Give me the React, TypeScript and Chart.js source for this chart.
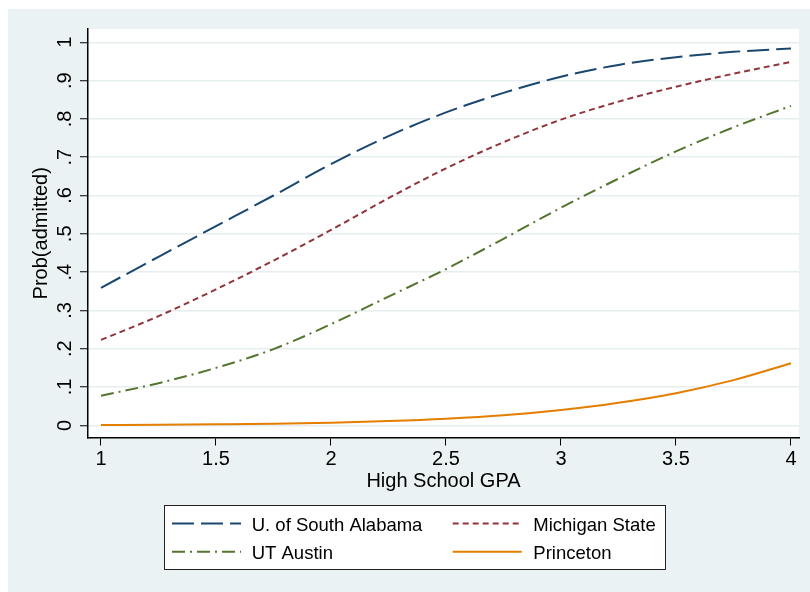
import { useEffect, useRef } from 'react';
import { Chart, registerables } from 'chart.js';

Chart.register(...registerables);

const gpa = [1, 1.25, 1.5, 1.75, 2, 2.25, 2.5, 2.75, 3, 3.25, 3.5, 3.75, 4];
const southAlabama = [0.359, 0.44, 0.52, 0.6, 0.682, 0.755, 0.817, 0.868, 0.91, 0.941, 0.961, 0.975, 0.984];
const michiganState = [0.223, 0.285, 0.355, 0.43, 0.51, 0.593, 0.671, 0.739, 0.798, 0.845, 0.884, 0.918, 0.949];
const utAustin = [0.077, 0.11, 0.15, 0.199, 0.264, 0.336, 0.408, 0.487, 0.568, 0.644, 0.715, 0.778, 0.834];
const princeton = [0.001, 0.0015, 0.0025, 0.004, 0.007, 0.011, 0.017, 0.026, 0.04, 0.059, 0.084, 0.118, 0.162];
const seriesNames = ['U. of South Alabama', 'Michigan State', 'UT Austin', 'Princeton'];
const xTicks = [1, 1.5, 2, 2.5, 3, 3.5, 4];
const xTickLabels = ['1', '1.5', '2', '2.5', '3', '3.5', '4'];
const yTicks = [0, 0.1, 0.2, 0.3, 0.4, 0.5, 0.6, 0.7, 0.8, 0.9, 1];
const yTickLabels = ['0', '.1', '.2', '.3', '.4', '.5', '.6', '.7', '.8', '.9', '1'];
const xTitle = 'High School GPA';
const yTitle = 'Prob(admitted)';

const FONT = '"Liberation Sans", Arial, sans-serif';
const BG = '#EAF2F3';

const toPoints = (ys: number[]) => gpa.map((x, i) => ({ x, y: ys[i] }));

const stataPlugin = {
  id: 'stataDecor',
  beforeDraw(chart: any) {
    const { ctx, chartArea: a, width, height } = chart;
    ctx.save();
    ctx.fillStyle = BG;
    ctx.fillRect(0, 0, width, height);
    ctx.fillStyle = '#ffffff';
    ctx.fillRect(a.left, a.top, a.right - a.left, a.bottom - a.top);
    ctx.restore();
  },
  afterDraw(chart: any) {
    const { ctx, chartArea: a } = chart;
    const xs = chart.scales.x;
    const ys = chart.scales.y;
    ctx.save();
    ctx.fillStyle = '#000';
    ctx.font = `20px ${FONT}`;
    // y tick labels (rotated)
    yTicks.forEach((v, i) => {
      const py = ys.getPixelForValue(v);
      ctx.save();
      ctx.translate(62.5, py);
      ctx.rotate(-Math.PI / 2);
      ctx.textAlign = 'center';
      ctx.textBaseline = 'alphabetic';
      ctx.fillText(yTickLabels[i], 0, 0);
      ctx.restore();
    });
    // x tick labels
    ctx.textAlign = 'center';
    ctx.textBaseline = 'alphabetic';
    xTicks.forEach((v, i) => {
      const px = xs.getPixelForValue(v);
      ctx.fillText(xTickLabels[i], px, 456);
    });
    // x title
    ctx.fillText(xTitle, (a.left + a.right) / 2, 478);
    // y title
    ctx.save();
    ctx.translate(39.3, (a.top + a.bottom) / 2);
    ctx.rotate(-Math.PI / 2);
    ctx.fillText(yTitle, 0, 0);
    ctx.restore();

    // legend
    const bx = 156, by = 496, bw = 502, bh = 65;
    ctx.fillStyle = '#fff';
    ctx.fillRect(bx, by, bw, bh);
    ctx.strokeStyle = '#222';
    ctx.lineWidth = 1;
    ctx.strokeRect(bx + 0.5, by + 0.5, bw - 1, bh - 1);
    const colLine = [[164, 233], [444.7, 513.7]];
    const colText = [243.7, 525.3];
    const rowLine = [514.5, 542.7];
    const rowBase = [522, 550];
    ctx.font = `18.5px ${FONT}`;
    ctx.textAlign = 'left';
    chart.data.datasets.forEach((ds: any, i: number) => {
      const c = i % 2;
      const r = Math.floor(i / 2);
      ctx.save();
      ctx.strokeStyle = ds.borderColor;
      ctx.lineWidth = ds.borderWidth;
      ctx.setLineDash(ds.borderDash || []);
      ctx.beginPath();
      ctx.moveTo(colLine[c][0], rowLine[r]);
      ctx.lineTo(colLine[c][1], rowLine[r]);
      ctx.stroke();
      ctx.restore();
      ctx.fillStyle = '#000';
      ctx.fillText(ds.label, colText[c], rowBase[r]);
    });
    ctx.restore();
  },
};

export default function App() {
  const ref = useRef<HTMLCanvasElement | null>(null);
  useEffect(() => {
    if (!ref.current) return;
    const chart = new Chart(ref.current, {
      type: 'line',
      data: {
        datasets: [
          { label: seriesNames[0], data: toPoints(southAlabama), borderColor: '#1a476f', borderWidth: 2, borderDash: [22, 7] },
          { label: seriesNames[1], data: toPoints(michiganState), borderColor: '#90353b', borderWidth: 2, borderDash: [6, 4] },
          { label: seriesNames[2], data: toPoints(utAustin), borderColor: '#55752f', borderWidth: 2, borderDash: [13, 5, 2, 5] },
          { label: seriesNames[3], data: toPoints(princeton), borderColor: '#e37e00', borderWidth: 2, borderDash: [] },
        ] as any,
      },
      options: {
        animation: false,
        responsive: false,
        devicePixelRatio: 1,
        elements: { point: { radius: 0 }, line: { cubicInterpolationMode: 'monotone', fill: false } },
        layout: { padding: { left: 72, top: 20, right: 11, bottom: 146.5 } },
        plugins: { legend: { display: false }, tooltip: { enabled: false } },
        scales: {
          x: {
            type: 'linear',
            min: 0.9435,
            max: 4.0348,
            afterBuildTicks: (s: any) => { s.ticks = xTicks.map((v) => ({ value: v })); },
            ticks: { display: false },
            grid: { drawOnChartArea: false, tickLength: 8, tickColor: '#000', tickWidth: 1 },
            border: { display: true, color: '#000', width: 1.5 },
          },
          y: {
            type: 'linear',
            min: -0.0318,
            max: 1.0347,
            afterBuildTicks: (s: any) => { s.ticks = yTicks.map((v) => ({ value: v })); },
            ticks: { display: false },
            grid: { drawOnChartArea: true, color: '#E6EEF0', lineWidth: 1.5, tickLength: 8, tickColor: '#000', tickWidth: 1 },
            border: { display: true, color: '#000', width: 1.5 },
          },
        },
      } as any,
      plugins: [stataPlugin],
    });
    return () => chart.destroy();
  }, []);
  return (
    <div style={{ position: 'absolute', left: 8, top: 9, width: 802, height: 583 }}>
      <canvas ref={ref} width={802} height={583} style={{ width: 802, height: 583, display: 'block' }} />
    </div>
  );
}
